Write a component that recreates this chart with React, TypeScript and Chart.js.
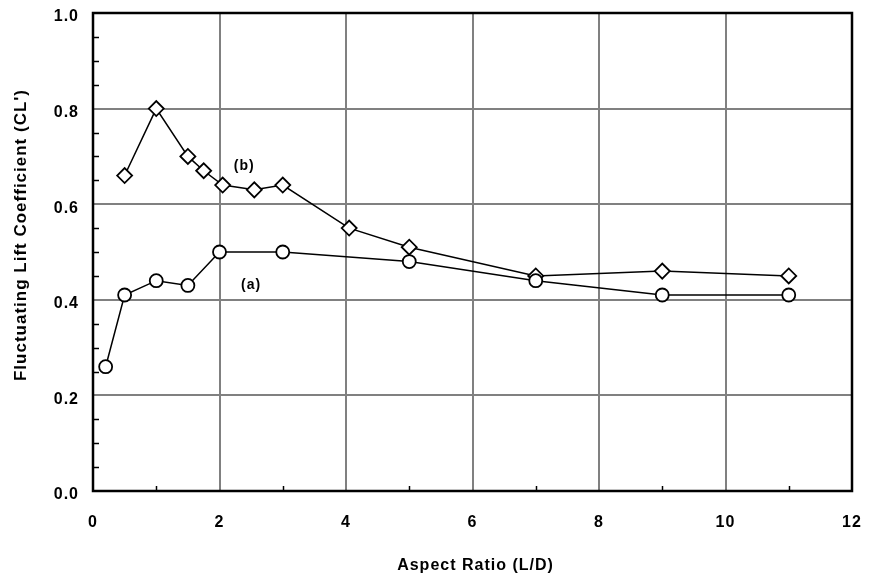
import React, { useEffect, useRef } from "react";
import { Chart, registerables } from "chart.js";

Chart.register(...registerables);

// Series (a): circles
const seriesAX = [0.2, 0.5, 1.0, 1.5, 2.0, 3.0, 5.0, 7.0, 9.0, 11.0];
const seriesAY = [0.26, 0.41, 0.44, 0.43, 0.5, 0.5, 0.48, 0.44, 0.41, 0.41];
// Series (b): diamonds
const seriesBX = [0.5, 1.0, 1.5, 1.75, 2.05, 2.55, 3.0, 4.05, 5.0, 7.0, 9.0, 11.0];
const seriesBY = [0.66, 0.8, 0.7, 0.67, 0.64, 0.63, 0.64, 0.55, 0.51, 0.45, 0.46, 0.45];

// Curve labels
const curveLabels = ["(b)", "(a)"];
const curveLabelX = [2.39, 2.5];
const curveLabelY = [0.68, 0.431];

const xTitle = "Aspect Ratio (L/D)";
const yTitle = "Fluctuating Lift Coefficient (CL')";

const FONT = "'Liberation Sans', Arial, Helvetica, sans-serif";

const spacingPlugin = {
  id: "spacing",
  beforeUpdate(chart: any) {
    chart.ctx.letterSpacing = "1px";
  },
  beforeDraw(chart: any) {
    chart.ctx.letterSpacing = "1px";
  },
};

const framePlugin = {
  id: "frame",
  beforeDatasetsDraw(chart: any) {
    const { ctx, chartArea, scales } = chart;
    const xs = scales.x;
    const ys = scales.y;
    ctx.save();
    ctx.strokeStyle = "#000";
    ctx.lineWidth = 1.5;
    // minor y ticks (inward from left axis)
    for (let i = 1; i < 20; i++) {
      const v = i * 0.05;
      if (i % 4 === 0) continue;
      const py = Math.round(ys.getPixelForValue(v)) + 0.5;
      ctx.beginPath();
      ctx.moveTo(chartArea.left, py);
      ctx.lineTo(chartArea.left + 6, py);
      ctx.stroke();
    }
    // minor x ticks (inward from bottom axis)
    for (let v = 1; v < 12; v += 2) {
      const px = Math.round(xs.getPixelForValue(v)) + 0.5;
      ctx.beginPath();
      ctx.moveTo(px, chartArea.bottom);
      ctx.lineTo(px, chartArea.bottom - 5);
      ctx.stroke();
    }
    // frame
    ctx.lineWidth = 2.5;
    ctx.strokeRect(
      chartArea.left,
      chartArea.top,
      chartArea.right - chartArea.left,
      chartArea.bottom - chartArea.top
    );
    ctx.restore();
  },
  afterDatasetsDraw(chart: any) {
    const { ctx, chartArea, scales } = chart;
    ctx.save();
    ctx.fillStyle = "#000";
    ctx.letterSpacing = "1px";
    // curve labels
    ctx.font = `bold 14px ${FONT}`;
    ctx.textAlign = "center";
    ctx.textBaseline = "middle";
    for (let i = 0; i < curveLabels.length; i++) {
      ctx.fillText(
        curveLabels[i],
        scales.x.getPixelForValue(curveLabelX[i]),
        scales.y.getPixelForValue(curveLabelY[i])
      );
    }
    // axis titles
    ctx.font = `bold 16px ${FONT}`;
    ctx.textBaseline = "alphabetic";
    ctx.fillText(xTitle, (chartArea.left + chartArea.right) / 2 + 3, 570);
    ctx.font = `bold 17px ${FONT}`;
    ctx.translate(26, (chartArea.top + chartArea.bottom) / 2 - 17);
    ctx.rotate(-Math.PI / 2);
    ctx.fillText(yTitle, 0, 0);
    ctx.restore();
  },
};

const zeroPad = (s: any) => {
  s.paddingLeft = 0;
  s.paddingRight = 0;
  s.paddingTop = 0;
  s.paddingBottom = 0;
};

export default function App() {
  const ref = useRef<HTMLCanvasElement | null>(null);
  useEffect(() => {
    document.body.style.margin = "0";
    const canvas = ref.current;
    if (!canvas) return;
    const chart = new Chart(canvas, {
      type: "scatter",
      data: {
        datasets: [
          {
            label: "(a)",
            data: seriesAX.map((x, i) => ({ x, y: seriesAY[i] })),
            showLine: true,
            borderColor: "#000",
            borderWidth: 1.5,
            backgroundColor: "#fff",
            pointStyle: "circle",
            pointRadius: 6.5,
            pointBorderWidth: 1.8,
            pointBorderColor: "#000",
            pointBackgroundColor: "#fff",
          },
          {
            label: "(b)",
            data: seriesBX.map((x, i) => ({ x, y: seriesBY[i] })),
            showLine: true,
            borderColor: "#000",
            borderWidth: 1.5,
            backgroundColor: "#fff",
            pointStyle: "rectRot",
            pointRadius: 7.5,
            pointBorderWidth: 1.8,
            pointBorderColor: "#000",
            pointBackgroundColor: "#fff",
          },
        ],
      },
      options: {
        animation: false,
        responsive: false,
        maintainAspectRatio: false,
        layout: { autoPadding: false, padding: { top: 13, right: 17, left: 0, bottom: 0 } },
        plugins: {
          legend: { display: false },
          tooltip: { enabled: false },
        },
        scales: {
          x: {
            type: "linear",
            min: 0,
            max: 12,
            border: { display: false },
            grid: {
              drawTicks: false,
              lineWidth: 2,
              color: (c: any) =>
                c.tick && (c.tick.value === 0 || c.tick.value === 12)
                  ? "rgba(0,0,0,0)"
                  : "#808080",
            },
            ticks: {
              stepSize: 2,
              padding: 22,
              color: "#000",
              font: { family: FONT, size: 16, weight: "bold" },
              maxRotation: 0,
            },
            afterFit: (s: any) => {
              s.height = 86;
              zeroPad(s);
            },
          },
          y: {
            type: "linear",
            min: 0,
            max: 1,
            border: { display: false },
            grid: {
              drawTicks: false,
              lineWidth: 2,
              color: (c: any) =>
                c.tick && (Math.abs(c.tick.value) < 1e-9 || Math.abs(c.tick.value - 1) < 1e-9)
                  ? "rgba(0,0,0,0)"
                  : "#808080",
            },
            ticks: {
              stepSize: 0.2,
              padding: 14,
              labelOffset: 4,
              color: "#000",
              font: { family: FONT, size: 16, weight: "bold" },
              callback: (v: any) => Number(v).toFixed(1),
            },
            afterFit: (s: any) => {
              s.width = 93;
              zeroPad(s);
            },
          },
        },
      },
      plugins: [spacingPlugin, framePlugin],
    });
    return () => chart.destroy();
  }, []);
  return (
    <div style={{ width: 869, height: 577 }}>
      <canvas ref={ref} width={869} height={577} style={{ display: "block" }} />
    </div>
  );
}
